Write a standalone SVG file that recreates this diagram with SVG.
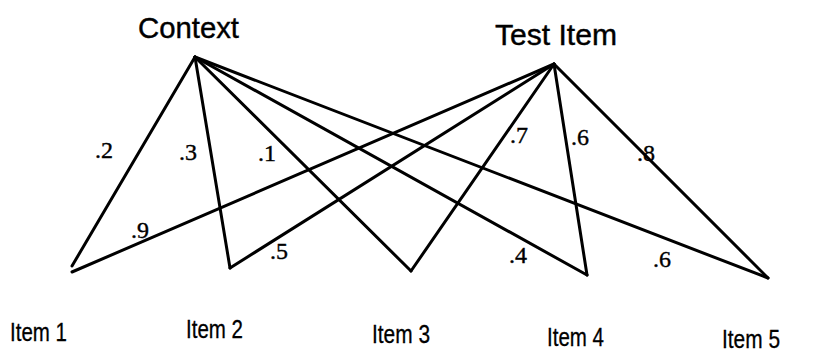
<svg xmlns="http://www.w3.org/2000/svg" width="814" height="356" viewBox="0 0 814 356">
  <style>
    .edge { stroke: #000; stroke-width: 3; fill: none; stroke-linecap: round; }
    .head { font-family: "Liberation Sans", Arial, sans-serif; font-size: 29px; fill: #000; stroke: #000; stroke-width: 0.4; }
    .item { font-family: "Liberation Sans", Arial, sans-serif; font-size: 25px; fill: #000; stroke: #000; stroke-width: 0.3; }
    .w { font-family: "Liberation Serif", "Times New Roman", serif; font-size: 24px; fill: #000; stroke: #000; stroke-width: 0.4; }
  </style>
  <rect width="814" height="356" fill="#fff"/>

  <!-- connectors: each source links to every item -->
  <g id="connectors">
    <line class="edge" x1="195" y1="57" x2="72" y2="266"/>
    <line class="edge" x1="195" y1="57" x2="230" y2="268"/>
    <line class="edge" x1="195" y1="57" x2="411" y2="271"/>
    <line class="edge" x1="195" y1="57" x2="587" y2="275"/>
    <line class="edge" x1="195" y1="57" x2="768" y2="278"/>
    <line class="edge" x1="554" y1="64" x2="72" y2="272"/>
    <line class="edge" x1="554" y1="64" x2="230" y2="268"/>
    <line class="edge" x1="554" y1="64" x2="411" y2="271"/>
    <line class="edge" x1="554" y1="64" x2="587" y2="275"/>
    <line class="edge" x1="554" y1="64" x2="768" y2="278"/>
  </g>

  <!-- weights -->
  <g id="weights">
    <text class="w" x="95" y="158">.2</text>
    <text class="w" x="179" y="160">.3</text>
    <text class="w" x="258" y="161">.1</text>
    <text class="w" x="131" y="238">.9</text>
    <text class="w" x="270" y="259">.5</text>
    <text class="w" x="510" y="143">.7</text>
    <text class="w" x="571" y="145">.6</text>
    <text class="w" x="637" y="161">.8</text>
    <text class="w" x="509" y="263">.4</text>
    <text class="w" x="653" y="267">.6</text>
  </g>

  <g id="context"><text class="head" x="138" y="38" textLength="101" lengthAdjust="spacingAndGlyphs">Context</text></g>
  <g id="test-item"><text class="head" x="495" y="45" textLength="122" lengthAdjust="spacingAndGlyphs">Test Item</text></g>

  <g id="item1"><text class="item" x="10" y="341" textLength="57" lengthAdjust="spacingAndGlyphs">Item 1</text></g>
  <g id="item2"><text class="item" x="186" y="338" textLength="57" lengthAdjust="spacingAndGlyphs">Item 2</text></g>
  <g id="item3"><text class="item" x="372" y="343" textLength="58" lengthAdjust="spacingAndGlyphs">Item 3</text></g>
  <g id="item4"><text class="item" x="547" y="346" textLength="57" lengthAdjust="spacingAndGlyphs">Item 4</text></g>
  <g id="item5"><text class="item" x="722" y="348" textLength="58" lengthAdjust="spacingAndGlyphs">Item 5</text></g>
</svg>
